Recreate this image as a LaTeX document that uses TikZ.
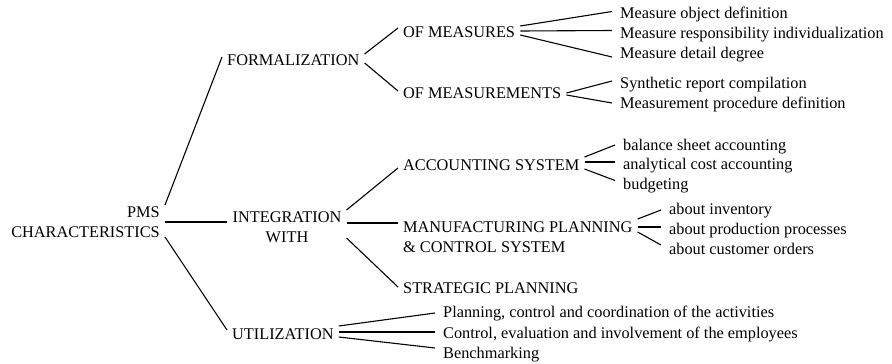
\documentclass[tikz,border=0pt]{standalone}
\usepackage{fontspec}
\setmainfont{Liberation Serif}
\usepackage{tikz}

\begin{document}
\begin{tikzpicture}[x=1pt,y=-1pt,
    every node/.style={font=\fontsize{16.3}{20}\selectfont},
    item/.style={inner xsep=5pt,inner ysep=0pt,text height=11pt,text depth=0pt,anchor=west},
    block/.style={inner xsep=5pt,inner ysep=0pt},
    leaf/.style={item,inner xsep=8pt},
    branch/.style={line width=1.1pt}
  ]
    \useasboundingbox (0,0) rectangle (892,364);
    % main branches
    \node[block,align=right,anchor=east] (pms) at (165,222) {PMS\\CHARACTERISTICS};
    \node[item] (form) at (222,60) {FORMALIZATION};
    \node[block,align=center] (integ) at (287,227) {INTEGRATION\\WITH};
    \node[item] (util) at (227,334) {UTILIZATION};
    \node[item] (meas) at (398,32) {OF MEASURES};
    \node[item] (mmts) at (398,93) {OF MEASUREMENTS};
    \node[item] (acc) at (398,165) {ACCOUNTING SYSTEM};
    \node[block,align=left,anchor=west] (mfg) at (398,237) {MANUFACTURING PLANNING\\\& CONTROL SYSTEM};
    \node[item] (strat) at (398,288) {STRATEGIC PLANNING};
    % leaves
    \node[leaf] (m1) at (612,13.5) {Measure object definition};
    \node[leaf] (m2) at (612,32.5) {Measure responsibility individualization};
    \node[leaf] (m3) at (612,53) {Measure detail degree};
    \node[leaf] (s1) at (612,83) {Synthetic report compilation};
    \node[leaf] (s2) at (612,103) {Measurement procedure definition};
    \node[leaf] (a1) at (615,145) {balance sheet accounting};
    \node[leaf] (a2) at (615,164) {analytical cost accounting};
    \node[leaf] (a3) at (615,183.5) {budgeting};
    \node[leaf] (p1) at (661,209) {about inventory};
    \node[leaf] (p2) at (661,229) {about production processes};
    \node[leaf] (p3) at (661,248.5) {about customer orders};
    \node[leaf] (u1) at (435,312) {Planning, control and coordination of the activities};
    \node[leaf] (u2) at (435,333) {Control, evaluation and involvement of the employees};
    \node[leaf] (u3) at (435,353) {Benchmarking};

    \draw[branch] ([yshift=17pt]pms.east) -- ([yshift=3pt]form.west);
    \draw[branch] (pms.east) -- (pms.east -| integ.west);
    \draw[branch] ([yshift=-15pt]pms.east) -- ([yshift=4pt]util.west);

    \draw[branch] ([yshift=6pt]form.east) -- ([yshift=4pt]meas.west);
    \draw[branch] ([yshift=-3pt]form.east) -- ([yshift=2pt]mmts.west);

    \coordinate (ih) at ([yshift=4pt]integ.east);
    \draw[branch] ([yshift=17pt]integ.east) -- ([yshift=-3pt]acc.west);
    \draw[branch] (ih) -- (ih -| mfg.west);
    \draw[branch] ([yshift=-11pt]integ.east) -- ([yshift=1pt]strat.west);

    \draw[branch] ([yshift=6pt]meas.east) -- ([yshift=2pt]m1.west);
    \draw[branch] ([yshift=1pt]meas.east) -- ([yshift=2pt]m2.west);
    \draw[branch] ([yshift=-3pt]meas.east) -- ([yshift=-4pt]m3.west);
    \draw[branch] (mmts.east) -- ([yshift=2pt]s1.west);
    \draw[branch] ([yshift=-2pt]mmts.east) -- (s2.west);

    \draw[branch] ([yshift=8pt]acc.east) -- (a1.west);
    \draw[branch] ([yshift=3pt]acc.east) -- ([yshift=2pt]a2.west);
    \draw[branch] ([yshift=-4pt]acc.east) -- ([yshift=3pt]a3.west);

    \draw[branch] ([yshift=18pt]mfg.east) -- ([yshift=-1pt]p1.west);
    \draw[branch] ([yshift=10pt]mfg.east) -- ([yshift=2pt]p2.west);
    \draw[branch] ([yshift=5pt]mfg.east) -- ([yshift=3.5pt]p3.west);

    \draw[branch] ([yshift=8pt]util.east) -- ([yshift=-1pt]u1.west);
    \draw[branch] ([yshift=2pt]util.east) -- ([yshift=1pt]u2.west);
    \draw[branch] ([yshift=-3pt]util.east) -- ([yshift=5pt]u3.west);
  \end{tikzpicture}
\end{document}
